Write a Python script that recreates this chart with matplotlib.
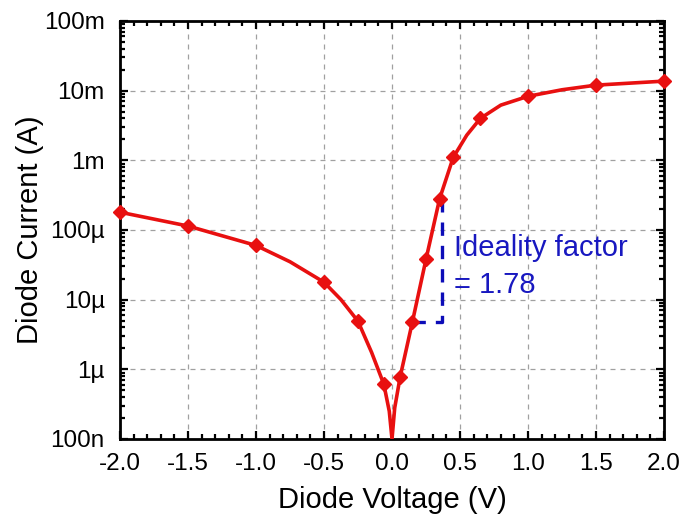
import matplotlib
matplotlib.use("Agg")
import matplotlib.pyplot as plt
from matplotlib.ticker import FixedLocator, MultipleLocator, LogLocator, NullFormatter

plt.rcParams['font.family'] = ['Liberation Sans', 'DejaVu Sans']

# Measured data (markers)
voltage = [-2.0, -1.5, -1.0, -0.5, -0.25, -0.06, 0.06, 0.15, 0.25, 0.35, 0.45, 0.65, 1.0, 1.5, 2.0]
current = [1.8e-4, 1.14e-4, 6.0e-5, 1.78e-5, 4.9e-6, 6.1e-7, 7.8e-7, 4.8e-6, 3.8e-5, 2.8e-4,
           1.1e-3, 4.0e-3, 8.3e-3, 1.2e-2, 1.37e-2]

# Curve (current falls to ~0 at 0 V)
curve_v = [-2.0, -1.5, -1.0, -0.75, -0.5, -0.375, -0.25, -0.15, -0.06, -0.02, 0.0, 0.02, 0.06,
           0.15, 0.25, 0.35, 0.45, 0.55, 0.65, 0.8, 1.0, 1.25, 1.5, 2.0]
curve_i = [1.8e-4, 1.14e-4, 6.0e-5, 3.5e-5, 1.78e-5, 1.0e-5, 4.9e-6, 1.75e-6, 6.1e-7, 2.5e-7,
           1.0e-7, 2.8e-7, 7.8e-7, 4.8e-6, 3.8e-5, 2.8e-4, 1.1e-3, 2.3e-3, 4.0e-3, 6.2e-3,
           8.3e-3, 1.03e-2, 1.2e-2, 1.37e-2]

y_ticks = [1e-7, 1e-6, 1e-5, 1e-4, 1e-3, 1e-2, 1e-1]
y_labels = ['100n', '1\u00b5', '10\u00b5', '100\u00b5', '1m', '10m', '100m']
x_ticks = [-2.0, -1.5, -1.0, -0.5, 0.0, 0.5, 1.0, 1.5, 2.0]
x_labels = ['-2.0', '-1.5', '-1.0', '-0.5', '0.0', '0.5', '1.0', '1.5', '2.0']

# Ideality-factor annotation bracket (V, A)
bracket_v = [0.15, 0.37, 0.37]
bracket_i = [4.8e-6, 4.8e-6, 3.0e-4]

fig = plt.figure(figsize=(6.84, 5.17), dpi=100)
ax = fig.add_axes([0.1754, 0.1509, 0.7954, 0.8085])

ax.set_yscale('log')
ax.set_xlim(-2.0, 2.0)
ax.set_ylim(1e-7, 1e-1)

ax.plot(bracket_v, bracket_i, color='#0c0cb8', lw=2.4, ls=(0, (4, 3)), zorder=2)
ax.plot(curve_v, curve_i, color='#e81010', lw=2.6, zorder=3, solid_joinstyle='round')
ax.plot(voltage, current, ls='none', marker='D', ms=7.5, color='#e81010', zorder=4, clip_on=False)

ax.text(0.455, 5.5e-5, 'Ideality factor', color='#1818c0', fontsize=21, va='center', ha='left')
ax.text(0.455, 1.62e-5, '= 1.78', color='#1818c0', fontsize=21, va='center', ha='left')

ax.set_xticks(x_ticks)
ax.set_xticklabels(x_labels)
ax.xaxis.set_minor_locator(MultipleLocator(0.1))
ax.yaxis.set_major_locator(FixedLocator(y_ticks))
ax.set_yticklabels(y_labels)
ax.yaxis.set_minor_locator(LogLocator(base=10, subs=range(2, 10), numticks=20))
ax.yaxis.set_minor_formatter(NullFormatter())

ax.tick_params(which='both', direction='in', top=True, right=True, width=1.6)
ax.tick_params(which='major', length=6, labelsize=17.5)
ax.tick_params(axis='y', which='major', pad=11)
ax.tick_params(axis='x', which='major', pad=10)
ax.tick_params(which='minor', length=3.5)

for s in ax.spines.values():
    s.set_linewidth(2.0)

ax.grid(True, which='major', color='#a0a0a0', ls=(0, (4, 4)), lw=0.9)

ax.set_xlabel('Diode Voltage (V)', fontsize=21, labelpad=8)
ax.set_ylabel('Diode Current (A)', fontsize=21, labelpad=0)

fig.savefig('out.png', dpi=100)
